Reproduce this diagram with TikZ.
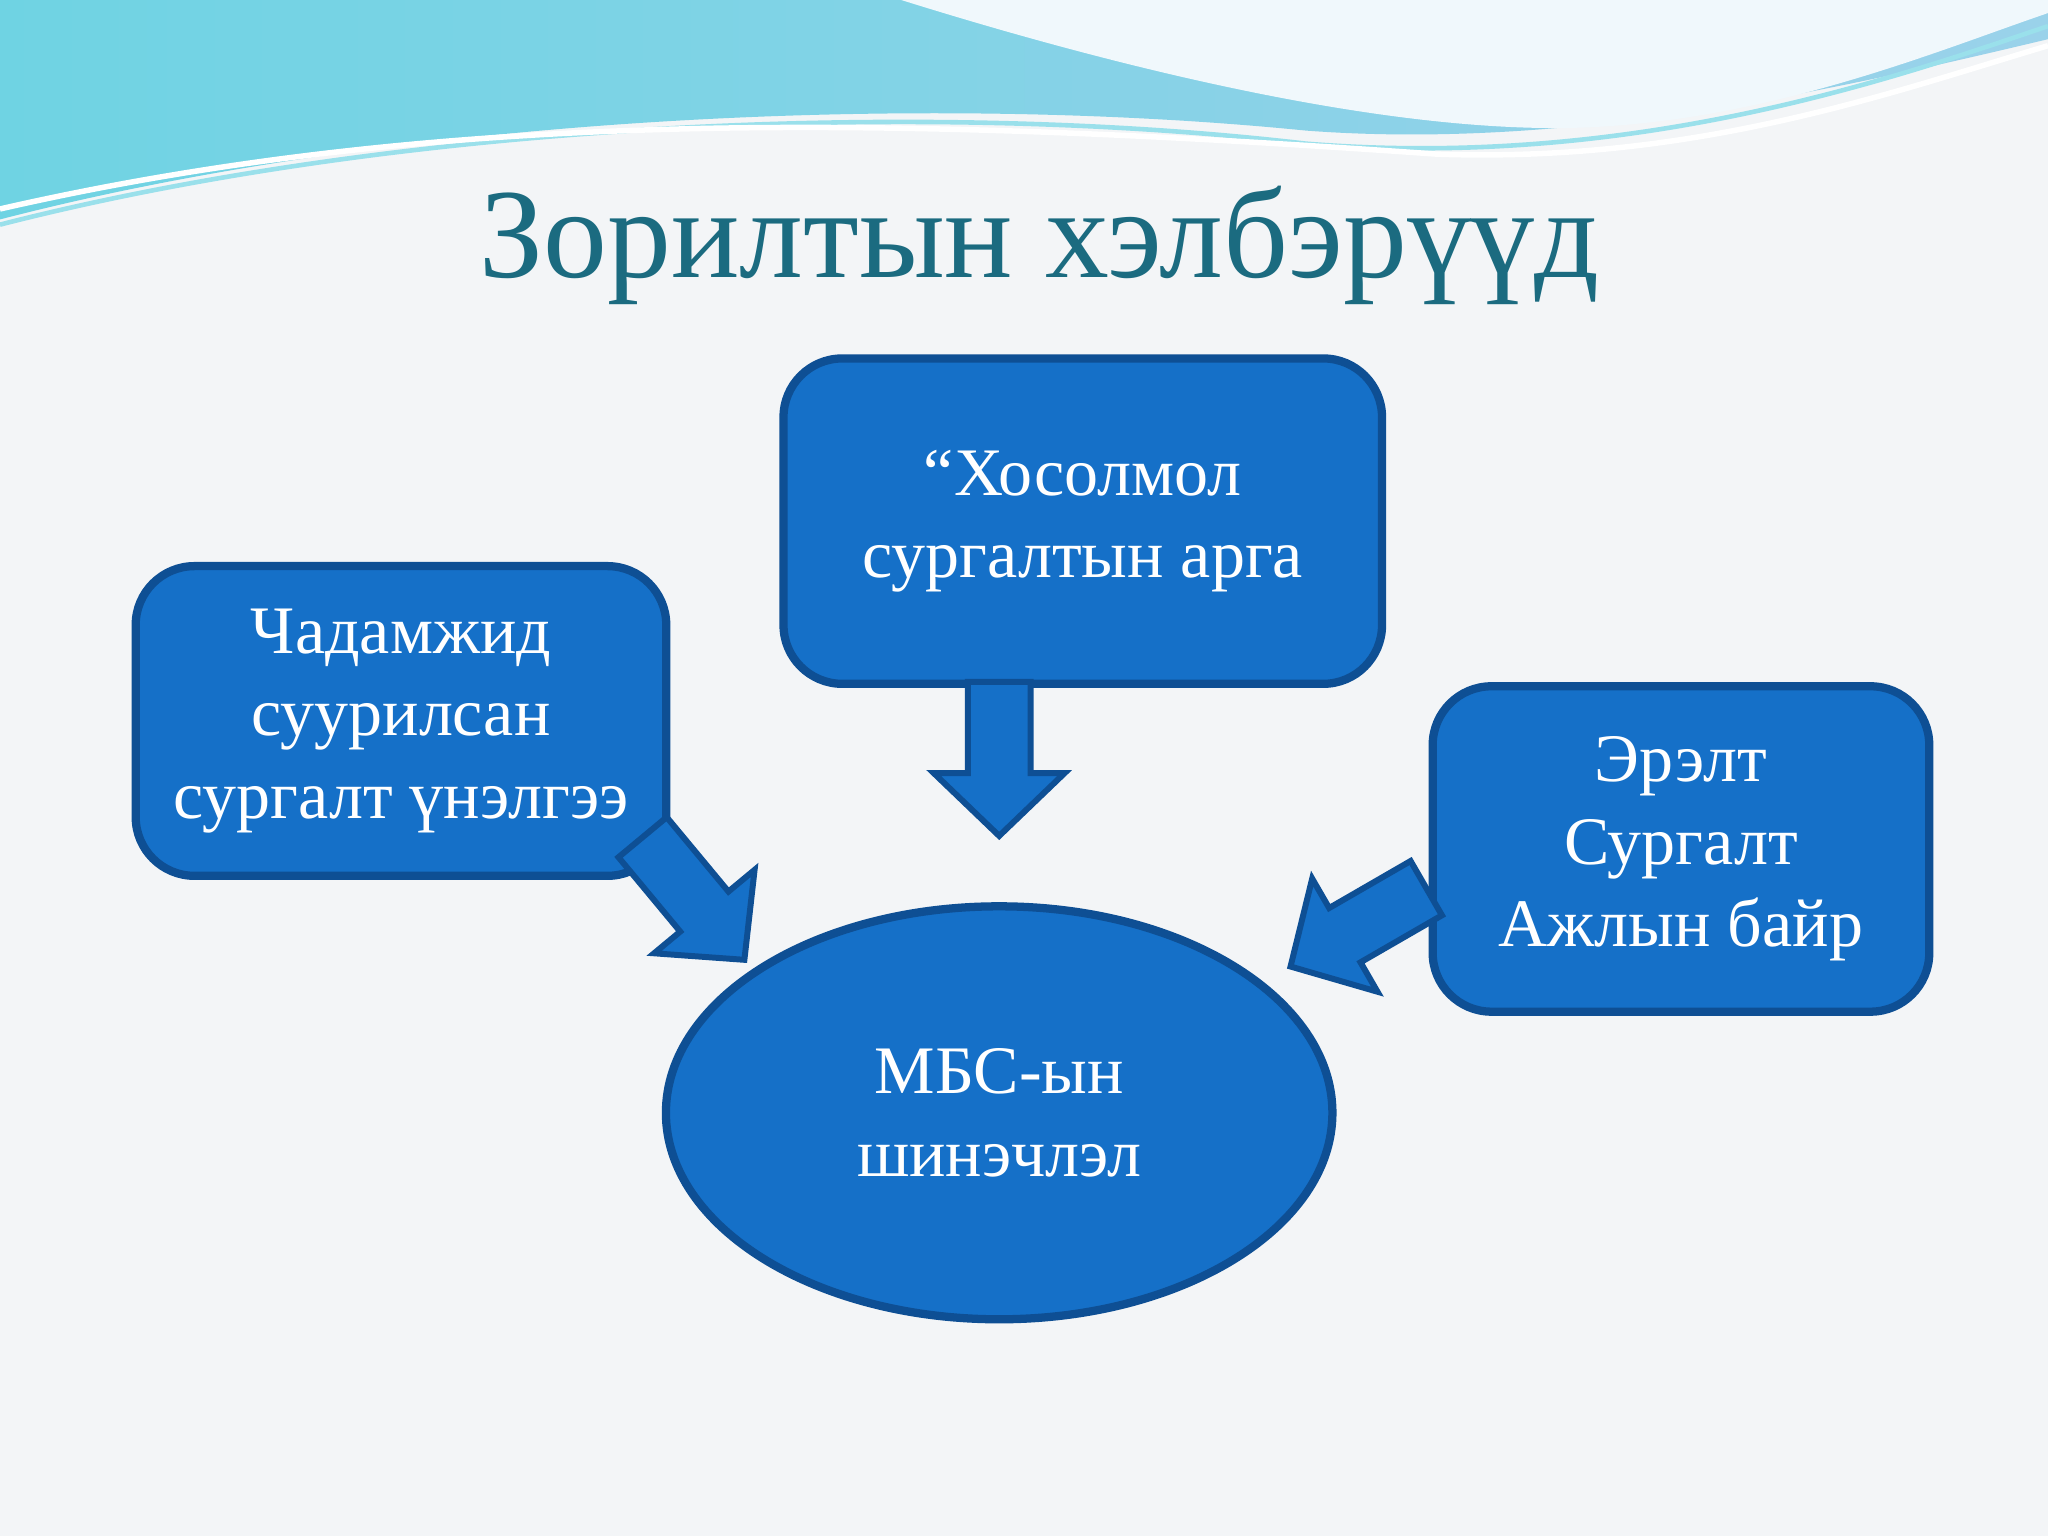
\documentclass[tikz,border=0pt]{standalone}
\usepackage{fontspec}
\setmainfont{Liberation Serif}
\usetikzlibrary{shapes.geometric}
\definecolor{bg}{HTML}{F3F5F7}
\definecolor{boxfill}{HTML}{1570C8}
\definecolor{boxline}{HTML}{0E4F94}
\definecolor{titlec}{HTML}{1B6B80}
\definecolor{wave1}{HTML}{6FD3E3}
\definecolor{wave2}{HTML}{9AD2EA}
\tikzset{
  box/.style={draw=boxline,line width=1.8pt,fill=boxfill,rounded corners=0.45cm,text=white,align=center,font=\fontsize{14.8pt}{18pt}\selectfont},
  blockarr/.style={draw=boxline,line width=1.3pt,fill=boxfill}
}
\newcommand{\blockarrow}[3]{%
  \begin{scope}[shift={#1},rotate=#2]
  \draw[blockarr] (0,24)--(#3-48,24)--(#3-48,50)--(#3,0)--(#3-48,-50)--(#3-48,-24)--(0,-24)--cycle;
  \end{scope}}
\begin{document}
\begin{tikzpicture}[x=0.01cm,y=-0.01cm]
\useasboundingbox (0,0) rectangle (1568,1176);
\fill[bg] (0,0) rectangle (1568,1176);
% waves
\shade[left color=wave1,right color=wave2] (0,0) -- (0,168) .. controls (300,90) and (700,70) .. (1000,100) .. controls (1200,115) and (1400,70) .. (1568,30) -- (1568,0) -- cycle;
\fill[white!85!wave2] (690,0) .. controls (850,50) and (1050,100) .. (1200,98) .. controls (1350,95) and (1480,40) .. (1568,10) -- (1568,0) -- cycle;
\draw[wave1!70!white,line width=1pt] (0,172) .. controls (300,95) and (700,75) .. (1000,110) .. controls (1250,130) and (1450,60) .. (1568,20);
\draw[white,line width=1.2pt] (0,160) .. controls (350,80) and (700,90) .. (1100,118) .. controls (1300,125) and (1450,70) .. (1568,35);
% title
\node[text=titlec,font=\fontsize{27.8pt}{33pt}\selectfont] (title) at (796,188) {Зорилтын хэлбэрүүд};
% boxes
\node[box,minimum width=4.58cm,minimum height=2.49cm] (top) at (829,399) {“Хосолмол\\сургалтын арга};
\node[box,minimum width=4.06cm,minimum height=2.37cm] (left) at (307,552) {Чадамжид\\суурилсан\\сургалт үнэлгээ};
\node[box,minimum width=3.80cm,minimum height=2.49cm] (right) at (1287,650) {Эрэлт\\Сургалт\\Ажлын байр};
\node[ellipse,draw=boxline,line width=1.8pt,fill=boxfill,minimum width=5.1cm,minimum height=3.16cm,text=white,align=center,font=\fontsize{14.8pt}{18pt}\selectfont] (mbs) at (765,852) {МБС-ын\\шинэчлэл};
% arrows
\blockarrow{(765,522)}{-90}{118}
\blockarrow{(492,641)}{-50.3}{122}
\blockarrow{(1092,680)}{-150}{120}
\end{tikzpicture}
\end{document}
